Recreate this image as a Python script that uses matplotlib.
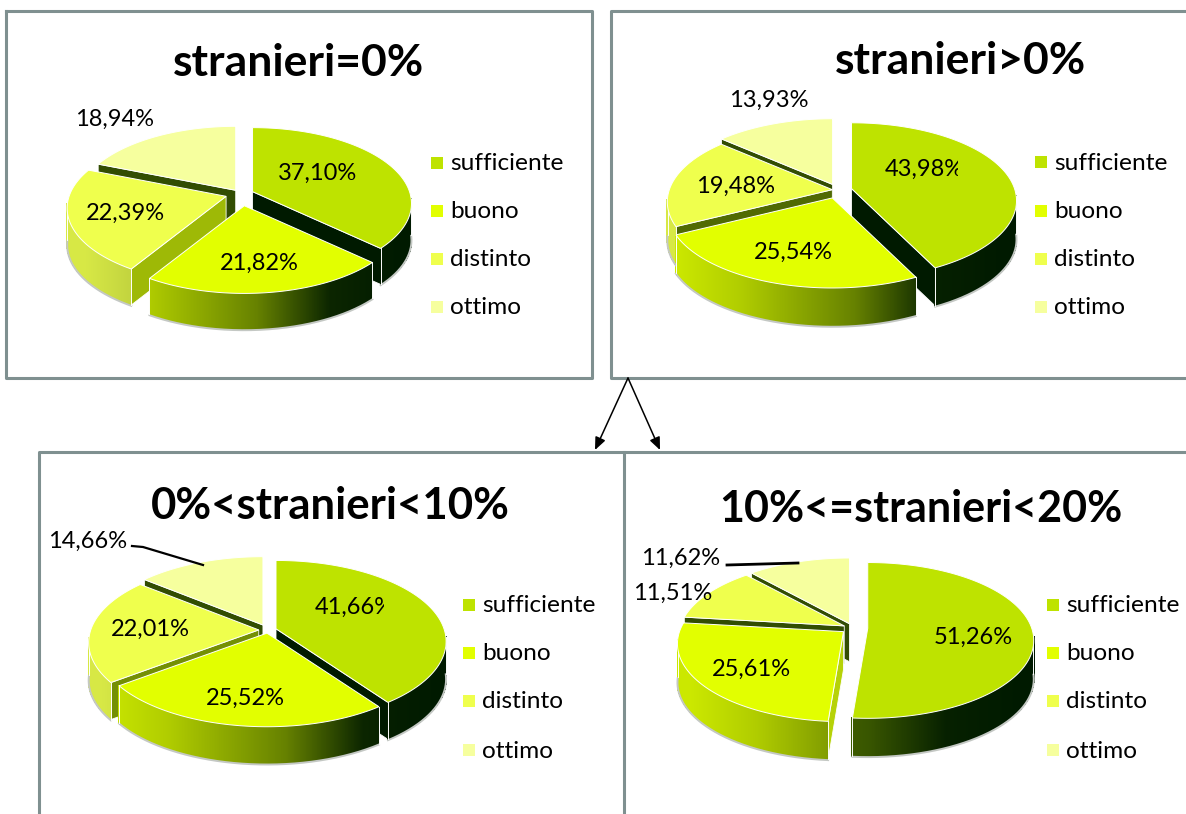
import numpy as np
import matplotlib
matplotlib.use("Agg")
import matplotlib.pyplot as plt
from matplotlib.colors import to_rgb
from matplotlib.patches import Polygon, Rectangle
from matplotlib.collections import PolyCollection

plt.rcParams["font.family"] = ["Lato", "DejaVu Sans"]

# Data: share of each grade, by share of foreign pupils in the class
categories = ["sufficiente", "buono", "distinto", "ottimo"]
titles = ["stranieri=0%", "stranieri>0%", "0%<stranieri<10%", "10%<=stranieri<20%"]
values_zero = [37.10, 21.82, 22.39, 18.94]
values_positive = [43.98, 25.54, 19.48, 13.93]
values_under_10 = [41.66, 25.52, 22.01, 14.66]
values_10_to_20 = [51.26, 25.61, 11.51, 11.62]

# Colours
SLICE_COLORS = ["#BEE300", "#E2FF00", "#EFFF4D", "#F6FF9E"]
SHADE_FLOOR = np.array(to_rgb("#001A00"))
CUT_BASE = np.array(to_rgb("#D2EE08"))
FRAME = "#7F9090"

# Layout of each panel, in figure pixels
PANELS = [
    dict(values=values_zero, title=titles[0], title_xy=(299, 63), title_size=32,
         centre=(241, 194), a=157, b=74, depth=36, explode=[.08, .16, .10, .06],
         label_xy=[(318, 173), (259, 263), (125, 213), (115, 119)],
         legend_x=431, legend_y=[163, 211, 259, 307], clip_first=None),
    dict(values=values_positive, title=titles[1], title_xy=(961, 61), title_size=32,
         centre=(838, 190), a=163, b=76, depth=38, explode=[.085, .11, .035, .08],
         label_xy=[(924, 169), (793, 252), (736, 186), (769, 100)],
         legend_x=1035, legend_y=[162, 211, 259, 307], clip_first=958),
    dict(values=values_under_10, title=titles[2], title_xy=(330, 506), title_size=31.5,
         centre=(268, 630), a=168, b=79, depth=37, explode=[.05, .04, .055, .07],
         label_xy=[(354, 607), (245, 698), (150, 629), (88, 541)],
         legend_x=463, legend_y=[605, 653, 701, 750], clip_first=384),
    dict(values=values_10_to_20, title=titles[3], title_xy=(921, 509), title_size=31,
         centre=(853, 628), a=164, b=76, depth=38, explode=[.09, .075, .06, .06],
         label_xy=[(973, 637), (751, 669), (673, 593), (681, 558)],
         legend_x=1047, legend_y=[605, 653, 701, 750], clip_first=None),
]
PERSPECTIVE = 0.156


def side_shade(t):
    """Horizontal light falloff on the outer wall, 0 at the left of the pie."""
    return np.interp(t, [0, .2, .55, .78, 1], [.9, .78, .45, .05, 0])


def cut_shade(angle):
    """Brightness of a radial cut face, from the clockwise angle of its edge."""
    return np.interp(angle, [133, 165, 184, 212, 233, 243, 276, 360],
                     [0, 0, .87, .75, .55, .38, .24, .24])


def mix(base, f):
    return SHADE_FLOOR + (np.array(to_rgb(base)) - SHADE_FLOOR) * f


def draw_pie(ax, panel):
    vals = np.array(panel["values"], float)
    sweep = vals / vals.sum() * 360
    ends = np.cumsum(sweep)
    starts = ends - sweep
    mids = (starts + ends) / 2
    cx, cy = panel["centre"]
    a, b, d = panel["a"], panel["b"], panel["depth"]

    def rim(theta):
        r = np.radians(theta)
        u, v = np.sin(r), np.cos(r)
        s = 1 / (1 + PERSPECTIVE * v)
        return a * u * s, -b * v * s

    # Paint from the back of the pie towards the viewer
    for i in np.argsort(-np.cos(np.radians(mids))):
        m = np.radians(mids[i])
        ex = panel["explode"][i]
        ax_x = cx + ex * a * np.sin(m)
        ax_y = cy - ex * b * np.cos(m)
        th = np.linspace(starts[i], ends[i], max(int(sweep[i] * 4), 24))
        rx, ry = rim(th)
        xs, ys = ax_x + rx, ax_y + ry

        # Radial cut faces that turn towards the viewer
        for edge, visible in ((starts[i], 180 < starts[i] < 360),
                              (ends[i], 0 < ends[i] < 180)):
            if not visible:
                continue
            ex_x, ex_y = rim(edge)
            face = [(ax_x, ax_y), (ax_x + ex_x, ax_y + ex_y),
                    (ax_x + ex_x, ax_y + ex_y + d), (ax_x, ax_y + d)]
            col = SHADE_FLOOR + (CUT_BASE - SHADE_FLOOR) * cut_shade(edge)
            ax.add_patch(Polygon(face, closed=True, facecolor=col,
                                 edgecolor="white", linewidth=0.6, zorder=3))

        # Outer wall as thin shaded quads; the darkest slice falls off sooner
        quads, cols = [], []
        front = ys[1:] >= ax_y + 0.1 * b
        strength = 0.65 if i == 0 else 1.0
        for j in range(len(xs) - 1):
            if not front[j]:
                continue
            quads.append([(xs[j], ys[j]), (xs[j + 1], ys[j + 1]),
                          (xs[j + 1], ys[j + 1] + d), (xs[j], ys[j] + d)])
            t = ((xs[j] + xs[j + 1]) / 2 - (cx - a)) / (2 * a)
            cols.append(mix(SLICE_COLORS[i], side_shade(t) * strength))
        if quads:
            ax.add_collection(PolyCollection(quads, facecolors=cols, edgecolors=cols,
                                             linewidths=0.6, antialiaseds=False, zorder=3))
            low = np.array([q[2] for q in quads][::-1] + [quads[0][3]])
            ax.plot(low[:, 0], low[:, 1] + 0.8, color="#C4C8C4", lw=1.4, zorder=3.05)
            for q in (quads[0], quads[-1]):
                k = (0, 3) if q is quads[0] else (1, 2)
                ax.plot([q[k[0]][0], q[k[1]][0]], [q[k[0]][1], q[k[1]][1]],
                        color="white", lw=0.7, zorder=3.1)

        # Top surface of the slice
        top = np.column_stack([np.r_[ax_x, xs], np.r_[ax_y, ys]])
        ax.add_patch(Polygon(top, closed=True, facecolor=SLICE_COLORS[i],
                             edgecolor="white", linewidth=0.7, zorder=3.2))


def pct(v):
    return f"{v:.2f}%".replace(".", ",")


fig = plt.figure(figsize=(11.86, 8.14), dpi=100, facecolor="white")
ax = fig.add_axes([0, 0, 1, 1])
ax.set_xlim(0, 1186)
ax.set_ylim(814, 0)
ax.axis("off")

# Panel frames; the right-hand and lower ones run off the page
FRAME_LW = 2.2
ax.plot([6, 592, 592, 6, 6], [11, 11, 378, 378, 11], color=FRAME, lw=FRAME_LW, zorder=1)
ax.plot([1186, 611, 611, 1186], [11, 11, 378, 378], color=FRAME, lw=FRAME_LW, zorder=1)
ax.plot([39, 39, 1186], [814, 452, 452], color=FRAME, lw=FRAME_LW, zorder=1)
ax.plot([624, 624], [452, 814], color=FRAME, lw=FRAME_LW, zorder=1)

# Arrows leading from the upper right panel to its two breakdowns
for tip in ((595, 450), (660, 450)):
    ax.annotate("", xy=tip, xytext=(628, 378), zorder=5,
                arrowprops=dict(arrowstyle="-|>,head_width=0.32,head_length=0.75",
                                color="black", lw=1.1, shrinkA=0, shrinkB=0))

for panel in PANELS:
    draw_pie(ax, panel)
    ax.text(*panel["title_xy"], panel["title"], fontsize=panel["title_size"],
            fontweight="bold", ha="center", va="center", color="black", zorder=6)
    for i, (cat, v, xy) in enumerate(zip(categories, panel["values"], panel["label_xy"])):
        t = ax.text(*xy, pct(v), fontsize=17, ha="center", va="center",
                    color="black", zorder=6)
        if i == 0 and panel["clip_first"]:
            box = Rectangle((xy[0] - 60, xy[1] - 30), panel["clip_first"] - xy[0] + 60, 60,
                            transform=ax.transData)
            t.set_clip_path(box)
            t.set_clip_on(True)
        ly = panel["legend_y"][i]
        lx = panel["legend_x"]
        ax.add_patch(Rectangle((lx, ly - 6), 12, 12, facecolor=SLICE_COLORS[i],
                               edgecolor="none", zorder=6))
        ax.text(lx + 19, ly + 1, cat, fontsize=17.6, ha="left", va="center",
                color="black", zorder=6)

# Leader lines for the small outer labels
ax.plot([132, 143, 203], [546, 547, 565], color="black", lw=1.6, zorder=6)
ax.plot([727, 798], [565, 563], color="black", lw=2.0, zorder=6)

fig.savefig("out.png", dpi=100, facecolor="white")
